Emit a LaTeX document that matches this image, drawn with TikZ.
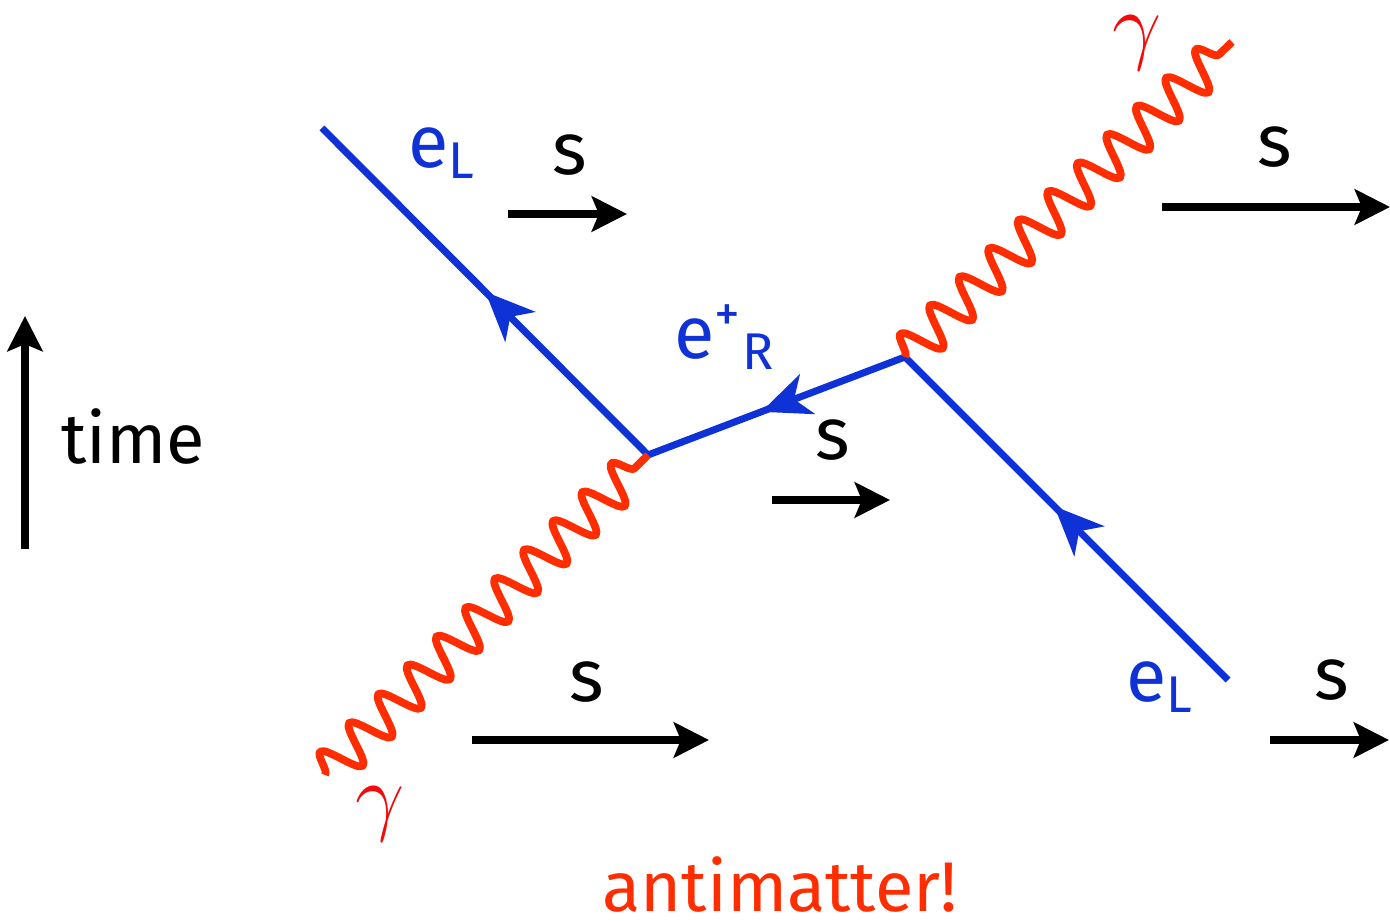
\documentclass[tikz,border=0pt]{standalone}
\usepackage{fontspec}
\setmainfont{Fira Sans}
\usetikzlibrary{arrows.meta, decorations.pathmorphing, decorations.markings}
\definecolor{fermblue}{RGB}{15,50,215}
\definecolor{photred}{RGB}{255,45,0}
\definecolor{gamred}{RGB}{245,10,10}

\begin{document}
\begin{tikzpicture}[x=0.1mm, y=-0.1mm,
  fermion/.style={draw=fermblue, line width=2pt, postaction={decorate},
                  decoration={markings, mark=at position #1 with
                  {\arrow{Stealth[length=14pt,width=12pt,inset=4pt]}}}},
  fermion/.default=0.5,
  photon/.style={draw=photred, line width=2.2pt, line join=round, decorate,
                 decoration={snake, amplitude=2mm, segment length=4.1mm}},
  spin/.style={-{Stealth[length=10pt,width=10pt,inset=2pt]}, line width=2.2pt},
  txt/.style={inner sep=0pt, font=\fontsize{21}{25}\selectfont},
  blbl/.style={txt, text=fermblue},
  gam/.style={inner sep=0pt, text=gamred, font=\fontsize{26}{30}\selectfont}
]
\useasboundingbox (0,0) rectangle (1390,921);

% vertices and free ends
\coordinate (V1) at (648,455);
\coordinate (V2) at (905,357);
\coordinate (eout) at (322,128);
\coordinate (ein) at (1228,680);
\coordinate (gin) at (325,775);
\coordinate (gout) at (1232,42);

% lines
\draw[fermion=0.5] (V1) -- (eout);
\draw[fermion=0.56] (V2) -- (V1);
\draw[fermion=0.54] (ein) -- (V2);
\draw[photon] (gin) -- (V1);
\draw[photon] (V2) -- (gout);

% labels
\node[blbl] (eL1) at (442,153) {e\textsubscript{L}};
\node[blbl] (eR) at (725,337) {e\textsuperscript{+}\textsubscript{R}};
\node[blbl] (eL2) at (1160,687) {e\textsubscript{L}};
\node[gam] (g1) at (380,814) {$\gamma$};
\node[gam] (g2) at (1137,43) {$\gamma$};

% spin arrows
\node[txt] (s1) at (570,155) {s};
\node[txt] (s2) at (1275,147) {s};
\node[txt] (s3) at (833,440) {s};
\node[txt] (s4) at (587,682) {s};
\node[txt] (s5) at (1332,680) {s};
\coordinate (a1) at (508,214); \coordinate (b1) at (627,214);
\coordinate (a2) at (1162,207); \coordinate (b2) at (1390,207);
\coordinate (a3) at (772,500); \coordinate (b3) at (890,500);
\coordinate (a4) at (472,740); \coordinate (b4) at (709,740);
\coordinate (a5) at (1270,740); \coordinate (b5) at (1389,740);
\foreach \i in {1,...,5}
  \draw[spin] (a\i) -- (b\i);

% time axis
\coordinate (t0) at (25,549);
\coordinate (t1) at (25,316);
\draw[spin] (t0) -- (t1);
\node[txt, font=\fontsize{20}{24}\selectfont] (time) at (133,437) {time};

\node[txt, text=photred, font=\fontsize{20}{24}\selectfont] (anti) at (780,885) {antimatter!};
\end{tikzpicture}
\end{document}
